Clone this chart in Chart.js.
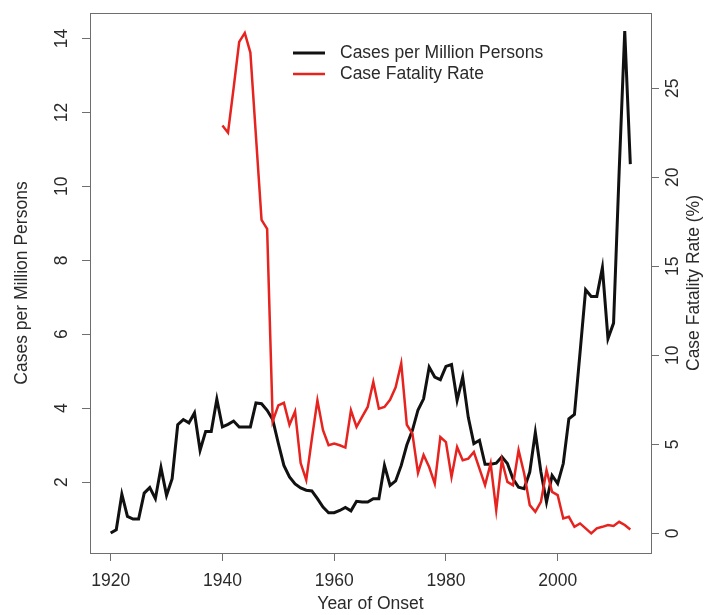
<!DOCTYPE html>
<html>
<head>
<meta charset="utf-8">
<script src="https://cdn.jsdelivr.net/npm/chart.js@4"></script>
<style>
  html, body { margin: 0; padding: 0; background: #fff; }
  canvas { display: block; }
</style>
</head>
<body>
<canvas id="chart" width="706" height="615"></canvas>
<script>
// Years of onset for the incidence series
const caseYears = [
  1920, 1921, 1922, 1923, 1924, 1925, 1926, 1927, 1928, 1929,
  1930, 1931, 1932, 1933, 1934, 1935, 1936, 1937, 1938, 1939,
  1940, 1941, 1942, 1943, 1944, 1945, 1946, 1947, 1948, 1949,
  1950, 1951, 1952, 1953, 1954, 1955, 1956, 1957, 1958, 1959,
  1960, 1961, 1962, 1963, 1964, 1965, 1966, 1967, 1968, 1969,
  1970, 1971, 1972, 1973, 1974, 1975, 1976, 1977, 1978, 1979,
  1980, 1981, 1982, 1983, 1984, 1985, 1986, 1987, 1988, 1989,
  1990, 1991, 1992, 1993, 1994, 1995, 1996, 1997, 1998, 1999,
  2000, 2001, 2002, 2003, 2004, 2005, 2006, 2007, 2008, 2009,
  2010, 2011, 2012, 2013
];
// Cases per million persons (left axis)
const casesPerMillion = [
  0.62, 0.71, 1.67, 1.07, 1.00, 1.00, 1.70, 1.85, 1.55, 2.39,
  1.64, 2.09, 3.55, 3.69, 3.60, 3.87, 2.86, 3.37, 3.37, 4.24,
  3.49, 3.56, 3.65, 3.49, 3.49, 3.49, 4.14, 4.12, 3.94, 3.69,
  3.05, 2.45, 2.14, 1.95, 1.84, 1.78, 1.76, 1.55, 1.32, 1.17,
  1.17, 1.23, 1.31, 1.22, 1.48, 1.46, 1.46, 1.55, 1.55, 2.45,
  1.91, 2.03, 2.45, 3.00, 3.40, 3.95, 4.25, 5.11, 4.84, 4.77,
  5.13, 5.18, 4.21, 4.84, 3.75, 3.04, 3.13, 2.48, 2.48, 2.51,
  2.68, 2.50, 2.09, 1.86, 1.82, 2.27, 3.34, 2.27, 1.46, 2.18,
  1.96, 2.50, 3.71, 3.83, 5.50, 7.20, 7.02, 7.02, 7.80, 5.88,
  6.30, 10.40, 14.20, 10.60
];

// Years with a case fatality rate
const cfrYears = [
  1940, 1941, 1942, 1943, 1944, 1945, 1946, 1947, 1948, 1949,
  1950, 1951, 1952, 1953, 1954, 1955, 1956, 1957, 1958, 1959,
  1960, 1961, 1962, 1963, 1964, 1965, 1966, 1967, 1968, 1969,
  1970, 1971, 1972, 1973, 1974, 1975, 1976, 1977, 1978, 1979,
  1980, 1981, 1982, 1983, 1984, 1985, 1986, 1987, 1988, 1989,
  1990, 1991, 1992, 1993, 1994, 1995, 1996, 1997, 1998, 1999,
  2000, 2001, 2002, 2003, 2004, 2005, 2006, 2007, 2008, 2009,
  2010, 2011, 2012, 2013
];
// Case fatality rate in % (right axis)
const fatalityRate = [
  22.9, 22.5, 25.0, 27.6, 28.1, 27.0, 22.3, 17.6, 17.1, 6.3,
  7.19, 7.33, 6.10, 6.85, 3.95, 3.00, 5.30, 7.47, 5.80, 4.95,
  5.04, 4.95, 4.82, 6.91, 5.98, 6.54, 7.10, 8.50, 7.00, 7.10,
  7.50, 8.20, 9.55, 6.10, 5.60, 3.40, 4.40, 3.73, 2.80, 5.41,
  5.13, 3.17, 4.85, 4.11, 4.20, 4.57, 3.64, 2.71, 3.92, 1.31,
  4.11, 2.89, 2.71, 4.67, 3.36, 1.59, 1.21, 1.77, 3.55, 2.33,
  2.15, 0.84, 0.93, 0.37, 0.56, 0.28, 0.00, 0.28, 0.37, 0.47,
  0.42, 0.65, 0.47, 0.22
];

// Tick labels
const xTicks = [1920, 1940, 1960, 1980, 2000];
const leftTicks = [2, 4, 6, 8, 10, 12, 14];
const rightTicks = [0, 5, 10, 15, 20, 25];

const xTitle = 'Year of Onset';
const leftTitle = 'Cases per Million Persons';
const rightTitle = 'Case Fatality Rate (%)';

const FONT = '17.5px "Liberation Sans", Arial, sans-serif';
const TEXT = '#2a2a2a';
const AXIS = '#6e6e6e';

const toPoints = (xs, ys) => xs.map((x, i) => ({ x: x, y: ys[i] }));

// frame, rotated tick labels, titles and legend (R style)
const rStyle = {
  id: 'rStyle',
  afterDraw(chart) {
    const { ctx, chartArea: a, scales } = chart;
    ctx.save();
    ctx.strokeStyle = AXIS;
    ctx.lineWidth = 1;
    ctx.strokeRect(Math.round(a.left) + 0.5, Math.round(a.top) + 0.5,
      Math.round(a.right - a.left), Math.round(a.bottom - a.top));

    ctx.fillStyle = TEXT;
    ctx.font = FONT;
    ctx.textAlign = 'center';
    ctx.textBaseline = 'middle';
    const vert = (text, x, y) => {
      ctx.save();
      ctx.translate(x, y);
      ctx.rotate(-Math.PI / 2);
      ctx.fillText(text, 0, 0);
      ctx.restore();
    };

    scales.x.ticks.forEach(t =>
      ctx.fillText(String(t.value), scales.x.getPixelForValue(t.value), a.bottom + 28));
    ctx.fillText(xTitle, (a.left + a.right) / 2, a.bottom + 51);

    const midY = (a.top + a.bottom) / 2;
    scales.y.ticks.forEach(t =>
      vert(String(t.value), a.left - 28, scales.y.getPixelForValue(t.value)));
    vert(leftTitle, a.left - 68, midY);

    scales.y1.ticks.forEach(t =>
      vert(String(t.value), a.right + 22, scales.y1.getPixelForValue(t.value)));
    vert(rightTitle, a.right + 43, midY);

    // legend, no box
    ctx.textAlign = 'left';
    chart.data.datasets.forEach((ds, i) => {
      const y = 53 + i * 21;
      ctx.strokeStyle = ds.borderColor;
      ctx.lineWidth = ds.borderWidth;
      ctx.beginPath();
      ctx.moveTo(293, y);
      ctx.lineTo(325, y);
      ctx.stroke();
      ctx.fillStyle = TEXT;
      ctx.fillText(ds.label, 340, y);
    });
    ctx.restore();
  }
};

const setTicks = values => scale => {
  scale.ticks = values.map(v => ({ value: v }));
};

const tickGrid = {
  drawOnChartArea: false,
  drawTicks: true,
  tickLength: 8,
  color: AXIS,
  lineWidth: 1
};

new Chart(document.getElementById('chart'), {
  type: 'line',
  data: {
    datasets: [
      {
        label: 'Cases per Million Persons',
        data: toPoints(caseYears, casesPerMillion),
        yAxisID: 'y',
        borderColor: '#111111',
        borderWidth: 3,
        pointRadius: 0,
        tension: 0,
        order: 1
      },
      {
        label: 'Case Fatality Rate',
        data: toPoints(cfrYears, fatalityRate),
        yAxisID: 'y1',
        borderColor: '#e6231f',
        borderWidth: 2.5,
        pointRadius: 0,
        tension: 0,
        order: 0
      }
    ]
  },
  options: {
    responsive: false,
    animation: false,
    layout: { padding: { top: 13, left: 0, right: 0, bottom: 0 } },
    plugins: {
      legend: { display: false },
      tooltip: { enabled: false }
    },
    scales: {
      x: {
        type: 'linear',
        min: 1916.3,
        max: 2016.7,
        afterBuildTicks: setTicks(xTicks),
        afterFit: s => { s.height = 62; },
        ticks: { display: false },
        grid: tickGrid,
        border: { display: false }
      },
      y: {
        position: 'left',
        min: 0.08,
        max: 14.69,
        afterBuildTicks: setTicks(leftTicks),
        afterFit: s => { s.width = 90; },
        ticks: { display: false },
        grid: tickGrid,
        border: { display: false }
      },
      y1: {
        position: 'right',
        min: -1.1,
        max: 29.22,
        afterBuildTicks: setTicks(rightTicks),
        afterFit: s => { s.width = 55; },
        ticks: { display: false },
        grid: tickGrid,
        border: { display: false }
      }
    }
  },
  plugins: [rStyle]
});
</script>
</body>
</html>
